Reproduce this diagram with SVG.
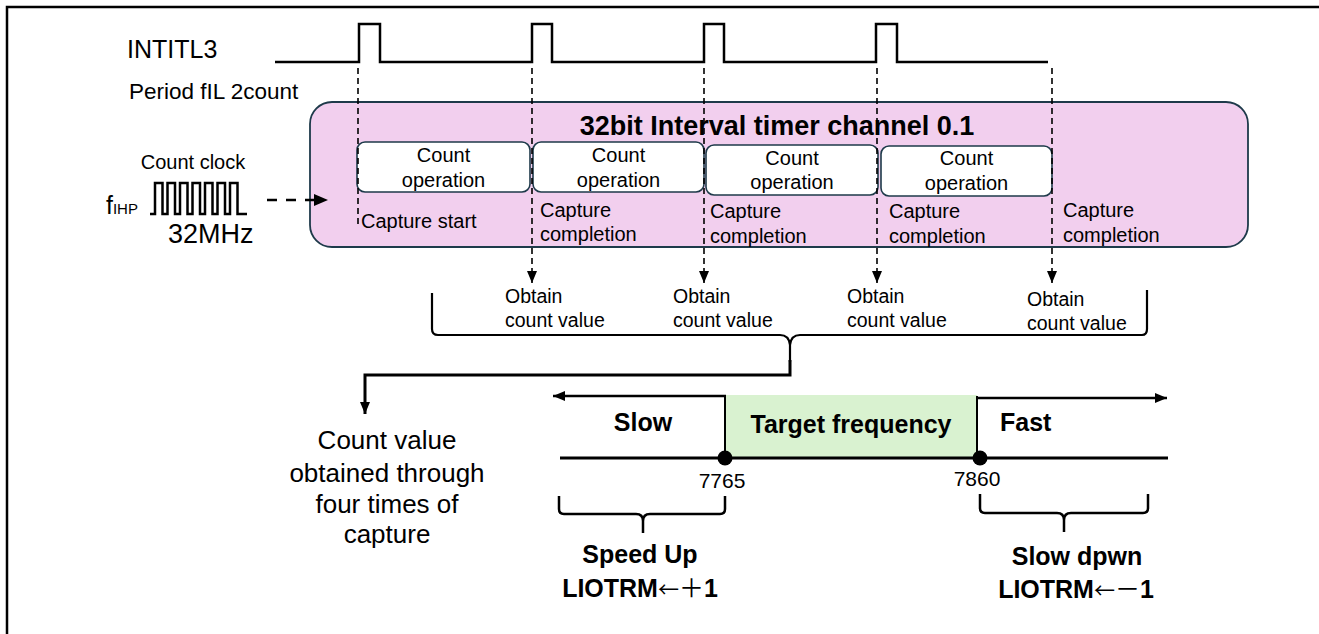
<svg xmlns="http://www.w3.org/2000/svg" width="1319" height="634" viewBox="0 0 1319 634">
<defs>
<style>
text{font-family:"Liberation Sans",Arial,"Noto Sans CJK JP",sans-serif;fill:#000}
.b{font-weight:bold}
.op{fill:#fff;stroke:#1e3a4a;stroke-width:1.6}
.dash{stroke:#000;stroke-width:1.6;stroke-dasharray:6 4;fill:none}
.ln{stroke:#000;fill:none}
.s20{font-size:20px}
.s19{font-size:19.5px}
.big{font-size:25px;font-weight:bold}
.arw{font-family:"Noto Sans CJK JP",sans-serif;font-weight:normal;font-size:21px}
</style>
<marker id="ah" viewBox="0 0 12 10" markerWidth="12" markerHeight="10" refX="12" refY="5" orient="auto" markerUnits="userSpaceOnUse"><path d="M0,0 L12,5 L0,10 z" fill="#000"/></marker>
</defs>
<rect width="1319" height="634" fill="#fff"/>
<path d="M7,634 V7 H1319" class="ln" stroke-width="2.5"/>

<g id="intitl3">
<text x="127" y="58" style="font-size:25px">INTITL3</text>
<path class="ln" stroke-width="2.5" d="M275,62 H359 V24 H380 V62 H532 V24 H552 V62 H704 V24 H724 V62 H876 V24 H897 V62 H1048"/>
<text x="129" y="99" style="font-size:22.5px">Period fIL 2count</text>
</g>

<g id="count-clock">
<text x="193" y="169" class="s20" text-anchor="middle">Count clock</text>
<text x="106" y="214" style="font-size:25px">f<tspan style="font-size:15px">IHP</tspan></text>
<path class="ln" stroke-width="2.5" d="M150,214 H155 V183 H162.5 V214 H167.5 V183 H175 V214 H180 V183 H187.5 V214 H192.5 V183 H200 V214 H205 V183 H212.5 V214 H217.5 V183 H225 V214 H230 V183 H237.5 V214 H247"/>
<text x="168" y="243" style="font-size:27px">32MHz</text>
</g>

<g id="timer">
<rect x="310" y="102" width="938" height="145" rx="22" fill="#f2cfee" stroke="#1e3a4a" stroke-width="1.8"/>
<text x="777" y="135" text-anchor="middle" class="b" style="font-size:27px">32bit Interval timer channel 0.1</text>
</g>

<g id="op1"><rect class="op" x="357" y="142" width="173" height="50" rx="8"/>
<text class="s20" text-anchor="middle" x="443.5" y="162">Count</text><text class="s20" text-anchor="middle" x="443.5" y="187">operation</text></g>
<g id="op2"><rect class="op" x="533" y="142" width="171" height="50" rx="8"/>
<text class="s20" text-anchor="middle" x="618.5" y="162">Count</text><text class="s20" text-anchor="middle" x="618.5" y="187">operation</text></g>
<g id="op3"><rect class="op" x="706" y="145" width="172" height="50" rx="8"/>
<text class="s20" text-anchor="middle" x="792" y="165">Count</text><text class="s20" text-anchor="middle" x="792" y="189">operation</text></g>
<g id="op4"><rect class="op" x="881" y="146" width="171" height="50" rx="8"/>
<text class="s20" text-anchor="middle" x="966.5" y="165">Count</text><text class="s20" text-anchor="middle" x="966.5" y="190">operation</text></g>

<g id="capture-labels" class="s20">
<text x="361" y="228">Capture start</text>
<text x="540" y="217">Capture</text><text x="540" y="241">completion</text>
<text x="710" y="218">Capture</text><text x="710" y="243">completion</text>
<text x="889" y="218">Capture</text><text x="889" y="243">completion</text>
<text x="1063" y="217">Capture</text><text x="1063" y="242">completion</text>
</g>

<g id="obtain-labels" class="s19">
<text x="505" y="303">Obtain</text><text x="505" y="327">count value</text>
<text x="673" y="303">Obtain</text><text x="673" y="327">count value</text>
<text x="847" y="303">Obtain</text><text x="847" y="327">count value</text>
<text x="1027" y="306">Obtain</text><text x="1027" y="330">count value</text>
</g>

<g id="count-value-text" style="font-size:26px" text-anchor="middle">
<text x="387" y="449">Count value</text>
<text x="387" y="482">obtained through</text>
<text x="387" y="513">four times of</text>
<text x="387" y="543">capture</text>
</g>

<g id="target">
<rect x="725" y="395" width="252" height="63" fill="#d9f2d0"/>
<text x="851" y="433" text-anchor="middle" class="big">Target frequency</text>
</g>
<g id="scale">
<text x="643" y="431" text-anchor="middle" class="big">Slow</text>
<text x="1000" y="431" class="big">Fast</text>
<path class="ln" stroke-width="3" d="M560,458 H1168"/>
<path class="ln" stroke-width="2" stroke="#222" d="M725,396 V458 M977,396 V458"/>
<circle cx="725" cy="458" r="7.5" fill="#000"/>
<circle cx="980" cy="458" r="7.5" fill="#000"/>
<text x="722" y="488" text-anchor="middle" style="font-size:21px">7765</text>
<text x="977" y="486" text-anchor="middle" style="font-size:21px">7860</text>
</g>

<g id="speed-up">
<path class="ln" stroke-width="2.5" d="M559,496 V509 Q559,514 564,514 H636 Q643,514 643,521 V533 M643,521 Q643,514 650,514 H720 Q725,514 725,509 V496"/>
<text x="640" y="563" text-anchor="middle" class="big">Speed Up</text>
<text x="640" y="597" text-anchor="middle" class="big">LIOTRM<tspan class="arw">←</tspan><tspan style="font-weight:normal">＋</tspan>1</text>
</g>
<g id="slow-down">
<path class="ln" stroke-width="2.5" d="M980,494 V508 Q980,513 985,513 H1057 Q1064,513 1064,520 V532 M1064,520 Q1064,513 1071,513 H1143 Q1148,513 1148,508 V494"/>
<text x="1077" y="565" text-anchor="middle" class="big">Slow dpwn</text>
<text x="1076" y="598" text-anchor="middle" class="big">LIOTRM<tspan class="arw">←</tspan><tspan style="font-weight:normal">－</tspan>1</text>
</g>

<g id="brace">
<path class="ln" stroke-width="2.2" d="M432,293 V329 Q432,335 438,335 H780 Q789,335 790,345 V362 M790,345 Q791,335 800,335 H1142 Q1147,335 1147,329 V290"/>
</g>

<g id="connectors">
<path class="dash" d="M358,68 V228"/>
<path class="dash" d="M532,68 V283" marker-end="url(#ah)"/>
<path class="dash" d="M704,68 V283" marker-end="url(#ah)"/>
<path class="dash" d="M877,68 V283" marker-end="url(#ah)"/>
<path class="dash" d="M1052,68 V283" marker-end="url(#ah)"/>
<path class="ln" stroke-width="2.5" stroke-dasharray="10 9" d="M267,200 H318"/>
<path d="M314,194 L328,200 L314,206 z" fill="#000"/>
<path class="ln" stroke-width="3" d="M790,360 V375 H365 V414" marker-end="url(#ah)"/>
<path class="ln" stroke-width="2.5" d="M726,396 H553" marker-end="url(#ah)"/>
<path class="ln" stroke-width="2.5" d="M977,398 H1167" marker-end="url(#ah)"/>
</g>
</svg>
